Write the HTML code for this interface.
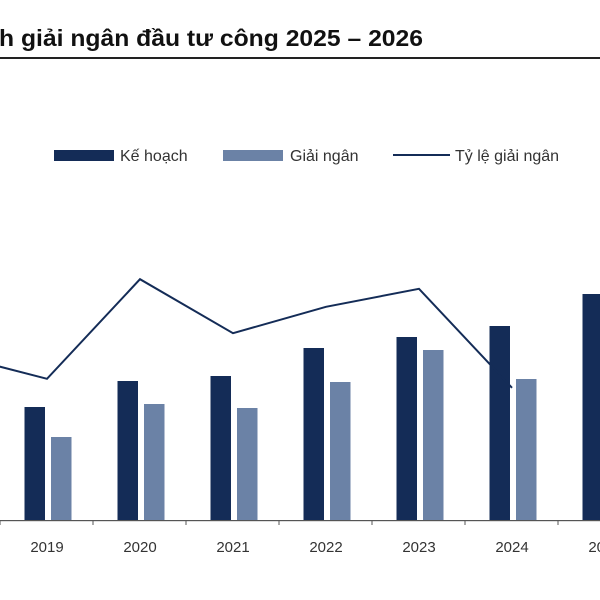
<!DOCTYPE html>
<html><head><meta charset="utf-8"><style>
html,body{margin:0;padding:0;background:#fff;}
svg{display:block;font-family:"Liberation Sans","Noto Sans CJK SC",sans-serif;}
</style></head><body>
<svg id="chart" width="600" height="600" viewBox="0 0 600 600">
<text x="-1" y="46" font-size="23" font-weight="bold" fill="#111" textLength="424" lengthAdjust="spacingAndGlyphs">h giải ngân đầu tư công 2025 – 2026</text>
<rect x="0" y="57" width="600" height="2" fill="#222"/>
<g>
<g><rect x="54" y="150" width="60" height="11" fill="#142c57"/><text x="120" y="161" font-size="16" fill="#333">Kế hoạch</text></g>
<g><rect x="223" y="150" width="60" height="11" fill="#6b82a6"/><text x="290" y="161" font-size="16" fill="#333">Giải ngân</text></g>
<g><rect x="393" y="154" width="57" height="2" fill="#142c57"/><text x="455" y="161" font-size="16" fill="#333">Tỷ lệ giải ngân</text></g>
</g>
<g id="plot"></g>
</svg>
<script>
const categories = ["2019","2020","2021","2022","2023","2024","2025"];
const keHoach = [452, 556, 576, 688, 732, 776, 904];
const giaiNgan = [332, 464, 448, 552, 680, 564];
const lineCats = ["2018","2019","2020","2021","2022","2023","2024"];
const tyLe = [70.7, 66.7, 83.3, 74.3, 78.7, 81.7, 65.2];

const NS = "http://www.w3.org/2000/svg";
const plot = document.getElementById("plot");
const base = 520, step = 93, x0 = 47;
function xc(i){ return x0 + i*step; }
function yBar(v){ return base - v/4; }
function yLine(p){ return 779 - p*6; }
function mk(tag, attrs){ const e=document.createElementNS(NS,tag); for(const k in attrs) e.setAttribute(k,attrs[k]); plot.appendChild(e); return e; }

categories.forEach((c,i)=>{
  const k = mk("rect",{x:xc(i)-22.5,y:yBar(keHoach[i]),width:20.5,height:base-yBar(keHoach[i]),fill:"#142c57"});
  
  
  if(i < giaiNgan.length){
    const g = mk("rect",{x:xc(i)+4,y:yBar(giaiNgan[i]),width:20.5,height:base-yBar(giaiNgan[i]),fill:"#6b82a6"});
    
    
  }
  const t = mk("text",{x:xc(i),y:552,"font-size":15,fill:"#333","text-anchor":"middle"});
  t.textContent = c;
  
  
});
for(let i=0;i<8;i++){
  const tk = mk("rect",{x:xc(i)-47-0.5,y:base,width:1,height:5,fill:"#555"});
  
  
}
const ax = mk("rect",{x:0,y:base,width:600,height:1.2,fill:"#555"});


const pts = tyLe.map((p,i)=>(xc(i-1))+","+yLine(p)).join(" ");
const ln = mk("polyline",{points:pts,fill:"none",stroke:"#142c57","stroke-width":2});


</script>
</body></html>
